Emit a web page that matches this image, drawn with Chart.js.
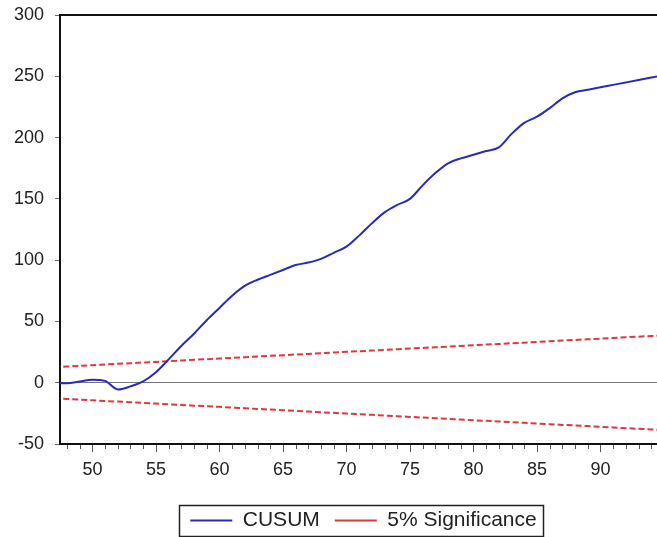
<!DOCTYPE html>
<html>
<head>
<meta charset="utf-8">
<script src="https://cdn.jsdelivr.net/npm/chart.js@4/dist/chart.umd.min.js"></script>
<style>
html,body{margin:0;padding:0;background:#fff;}
#wrap{width:657px;height:537px;position:relative;}
</style>
</head>
<body>
<div id="wrap"><canvas id="c" width="657" height="537"></canvas></div>
<script>
// Observation index (x axis)
const obs = [47,48,49,50,51,52,53,54,55,56,57,58,59,60,61,62,63,64,65,66,67,68,69,70,71,72,73,74,75,76,77,78,79,80,81,82,83,84,85,86,87,88,89,90,91,92,93,94,95];
// CUSUM statistic
const cusum = [-0.5,-0.5,1,2.5,1.5,-5.5,-3,1,8.5,19,30,40,51,61,71,79,84,88,92,96,98,101,106,111,120,130,139,145,150,161,171,179,183,186,189,192,203,212,217,224,232,237,239,241,243,245,247,249,251];
// 5% significance bounds
const upper = [12.7,13.2,13.8,14.3,14.9,15.4,15.9,16.5,17.0,17.6,18.1,18.7,19.2,19.7,20.3,20.8,21.4,21.9,22.4,23.0,23.5,24.1,24.6,25.2,25.7,26.2,26.8,27.3,27.9,28.4,28.9,29.5,30.0,30.6,31.1,31.6,32.2,32.7,33.3,33.8,34.4,34.9,35.4,36.0,36.5,37.1,37.6,38.1,38.7];
const lower = [-12.7,-13.2,-13.8,-14.3,-14.9,-15.4,-15.9,-16.5,-17.0,-17.6,-18.1,-18.7,-19.2,-19.7,-20.3,-20.8,-21.4,-21.9,-22.4,-23.0,-23.5,-24.1,-24.6,-25.2,-25.7,-26.2,-26.8,-27.3,-27.9,-28.4,-28.9,-29.5,-30.0,-30.6,-31.1,-31.6,-32.2,-32.7,-33.3,-33.8,-34.4,-34.9,-35.4,-36.0,-36.5,-37.1,-37.6,-38.1,-38.7];
const yTicks = [-50,0,50,100,150,200,250,300];
const xTickLabels = [50,55,60,65,70,75,80,85,90];
const seriesNames = ['CUSUM','5% Significance'];

const pts = arr => obs.map((x,i)=>({x:x,y:arr[i]}));

const FONT = "'Liberation Sans', Arial, sans-serif";

const extras = {
  id:'extras',
  afterLayout(chart){
    const lg = chart.legend;
    if (!lg) return;
    const dx = 35, dy = 4;
    lg.left += dx; lg.right += dx; lg.top += dy; lg.bottom += dy;
    (lg.legendHitBoxes||[]).forEach(b=>{ b.left += dx; });
  },
  afterDraw(chart){
    const s = chart.scales.x, ctx = chart.ctx, area = chart.chartArea;
    ctx.save();
    ctx.strokeStyle = '#555';
    ctx.lineWidth = 1;
    for (let v = Math.ceil(s.min); v <= s.max; v++) {
      const px = Math.round(s.getPixelForValue(v)) + 0.5;
      const len = (v % 5 === 0) ? 8 : 5;
      ctx.beginPath();
      ctx.moveTo(px, area.bottom + 1);
      ctx.lineTo(px, area.bottom + len);
      ctx.stroke();
    }
    // legend frame
    const lg = chart.legend;
    if (lg && lg.legendHitBoxes && lg.legendHitBoxes.length) {
      const hb = lg.legendHitBoxes;
      const l = Math.min(...hb.map(b=>b.left)), r = Math.max(...hb.map(b=>b.left+b.width));
      const t = Math.min(...hb.map(b=>b.top)), btm = Math.max(...hb.map(b=>b.top+b.height));
      ctx.strokeStyle = '#222';
      ctx.lineWidth = 1.5;
      ctx.strokeRect(Math.round(l-11)+0.5, Math.round(t-5)+0.5, Math.round(r-l+18), Math.round(btm-t+10));
    }
    ctx.restore();
  }
};

new Chart(document.getElementById('c'), {
  type:'line',
  data:{
    datasets:[
      {label:seriesNames[0], data:pts(cusum), borderColor:'#2a2ab8', backgroundColor:'#2a2ab8', borderWidth:2, pointRadius:0, cubicInterpolationMode:'monotone'},
      {label:seriesNames[1], data:pts(upper), borderColor:'#e0383a', backgroundColor:'#e0383a', borderWidth:2, borderDash:[6,3], pointRadius:0},
      {label:'lower', data:pts(lower), borderColor:'#e0383a', backgroundColor:'#e0383a', borderWidth:2, borderDash:[6,3], pointRadius:0}
    ]
  },
  options:{
    responsive:false,
    animation:false,
    layout:{padding:{top:0,right:0,bottom:0,left:0}},
    plugins:{
      tooltip:{enabled:false},
      legend:{
        display:true,
        position:'bottom',
        labels:{
          filter:(item)=>item.datasetIndex<2,
          usePointStyle:true,
          pointStyle:'line',
          pointStyleWidth:42,
          boxHeight:2,
          padding:15,
          color:'#222',
          font:{family:FONT,size:21}
        }
      }
    },
    scales:{
      x:{
        type:'linear',
        position:'bottom',
        min:47.45,
        max:94.45,
        afterFit:(s)=>{s.height = 47; s.paddingLeft = 0; s.paddingRight = 0;},
        border:{display:true,color:'#111',width:2},
        grid:{display:true,drawOnChartArea:false,drawTicks:false,color:'transparent'},
        ticks:{
          stepSize:5,
          includeBounds:false,
          padding:15,
          color:'#222',
          font:{family:FONT,size:18},
          maxRotation:0,
          callback:(v)=> xTickLabels.includes(v) ? String(v) : ''
        }
      },
      x2:{
        type:'linear',
        position:'top',
        min:47.45,
        max:94.45,
        afterFit:(s)=>{s.height = 15; s.paddingLeft = 0; s.paddingRight = 0;},
        border:{display:true,color:'#111',width:2},
        grid:{display:false},
        ticks:{display:false}
      },
      y:{
        type:'linear',
        min:-50,
        max:300,
        afterFit:(s)=>{s.width = 60; s.paddingTop = 0; s.paddingBottom = 0;},
        afterBuildTicks:(s)=>{s.ticks = yTicks.map(v=>({value:v}));},
        border:{display:true,color:'#111',width:2},
        grid:{
          drawOnChartArea:true,
          tickLength:5,
          tickColor:'#666',
          lineWidth:1,
          color:(ctx)=> (ctx.tick && ctx.tick.value===0) ? '#777' : 'rgba(0,0,0,0)'
        },
        ticks:{
          padding:11,
          color:'#222',
          font:{family:FONT,size:18}
        }
      }
    }
  },
  plugins:[extras]
});
</script>
</body>
</html>
